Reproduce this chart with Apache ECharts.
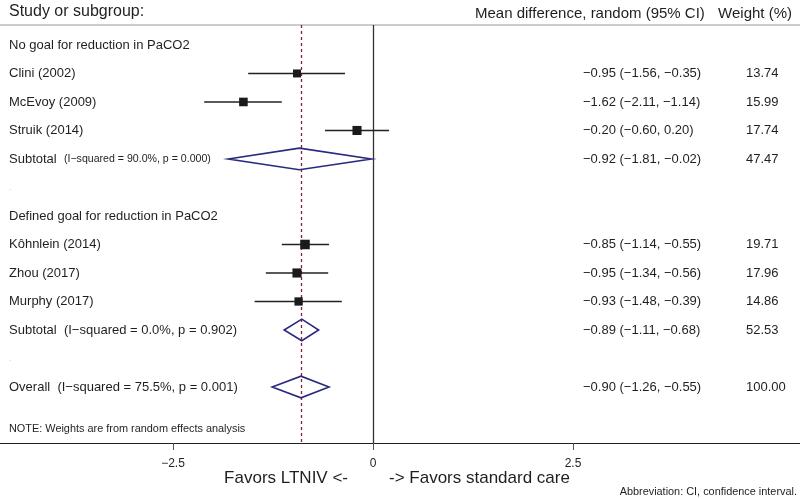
<!DOCTYPE html>
<html><head><meta charset="utf-8">
<script src="https://cdn.jsdelivr.net/npm/echarts@6/dist/echarts.min.js"></script>
<style>html,body{margin:0;padding:0;background:#fff}#c{width:800px;height:499px}</style>
</head><body><div id="c"></div>
<script>
// ---------- data ----------
const groupHeaders = ["No goal for reduction in PaCO2", "Defined goal for reduction in PaCO2"];
const groupHeaderRows = [0, 6];
const studyNames = ["Clini (2002)", "McEvoy (2009)", "Struik (2014)", "Kôhnlein (2014)", "Zhou (2017)", "Murphy (2017)"];
const studyRows = [1, 2, 3, 7, 8, 9];
const studyEst = [-0.95, -1.62, -0.20, -0.85, -0.95, -0.93];
const studyLo = [-1.56, -2.11, -0.60, -1.14, -1.34, -1.48];
const studyHi = [-0.35, -1.14, 0.20, -0.55, -0.56, -0.39];
const studyWeights = [13.74, 15.99, 17.74, 19.71, 17.96, 14.86];
const pooledLabels = ["Subtotal", "Subtotal", "Overall"];
const pooledHet = ["(I\u2212squared = 90.0%, p = 0.000)", "(I\u2212squared = 0.0%, p = 0.902)", "(I\u2212squared = 75.5%, p = 0.001)"];
const pooledRows = [4, 10, 12];
const pooledEst = [-0.92, -0.89, -0.90];
const pooledLo = [-1.81, -1.11, -1.26];
const pooledHi = [-0.02, -0.68, -0.55];
const pooledWeights = [47.47, 52.53, 100.00];
const spacerRows = [5, 11];
const xTicks = [-2.5, 0, 2.5];
const overallEffect = pooledEst[2];

// ---------- styles ----------
const FF = '"Liberation Sans", Arial, Helvetica, sans-serif';
const TXT = '#1f1f1f';
const hetFontPx = [10.6, 13, 13];
const X_LEFT = -4.55, X_CI = 2.625, X_WT = 4.6625;

const fmt = v => (v < 0 ? '\u2212' : '') + Math.abs(v).toFixed(2);
const ciText = (e, l, h) => fmt(e) + ' (' + fmt(l) + ', ' + fmt(h) + ')';

// build label table
const labelRows = [];
groupHeaders.forEach((t, i) => labelRows.push({row: groupHeaderRows[i], left: t}));
studyNames.forEach((t, i) => labelRows.push({row: studyRows[i], left: t, ci: ciText(studyEst[i], studyLo[i], studyHi[i]), wt: studyWeights[i].toFixed(2)}));
pooledLabels.forEach((t, i) => labelRows.push({row: pooledRows[i], left: t, het: pooledHet[i], hetPx: hetFontPx[i], ci: ciText(pooledEst[i], pooledLo[i], pooledHi[i]), wt: pooledWeights[i].toFixed(2)}));
spacerRows.forEach(r => labelRows.push({row: r, dot: true}));

function txt(x, y, text, font, align, fill) {
  return {type: 'text', x: x, y: y, silent: true,
    style: {text: text, font: font, fill: fill || TXT, align: align || 'left', textAlign: align || 'left', verticalAlign: 'middle', textVerticalAlign: 'middle'}};
}

const chart = echarts.init(document.getElementById('c'), null, {renderer: 'canvas'});
chart.setOption({
  animation: false,
  backgroundColor: '#fff',
  grid: {left: 0, right: 0, top: 25, bottom: 56},
  xAxis: {
    type: 'value', min: -4.6625, max: 5.3375, position: 'bottom',
    axisLine: {show: true, onZero: false, lineStyle: {color: '#222', width: 1}},
    axisTick: {show: true, customValues: xTicks, length: 7, lineStyle: {color: '#555'}},
    axisLabel: {show: true, customValues: xTicks, margin: 15, fontSize: 12, fontFamily: FF, color: TXT,
      formatter: v => (v < 0 ? '\u2212' : '') + Math.abs(v)},
    splitLine: {show: false}
  },
  yAxis: {type: 'value', inverse: true, min: -0.7, max: 13.965, show: false},
  graphic: [
    {type: 'line', silent: true, shape: {x1: 0, y1: 25, x2: 800, y2: 25}, style: {stroke: '#999', lineWidth: 1}},
    txt(9, 12, 'Study or subgroup:', '16px ' + FF),
    txt(475, 14, 'Mean difference, random (95% CI)', '15px ' + FF),
    txt(792, 14, 'Weight (%)', '15px ' + FF, 'right'),
    txt(9, 429, 'NOTE: Weights are from random effects analysis', '10.9px ' + FF),
    txt(348, 478, 'Favors LTNIV <-', '17px ' + FF, 'right'),
    txt(389, 478, '-> Favors standard care', '17px ' + FF),
    txt(797, 492, 'Abbreviation: CI, confidence interval.', '10.9px ' + FF, 'right')
  ],
  series: [
    {
      type: 'custom', name: 'studies', z: 5,
      encode: {x: [0, 2, 3], y: 1},
      data: studyRows.map((r, i) => [studyEst[i], r, studyLo[i], studyHi[i], studyWeights[i]]),
      renderItem: (params, api) => {
        const r = api.value(1);
        const p = api.coord([api.value(0), r]);
        const a = api.coord([api.value(2), r]);
        const b = api.coord([api.value(3), r]);
        const s = 2.15 * Math.sqrt(api.value(4));
        return {type: 'group', children: [
          {type: 'line', shape: {x1: a[0], y1: a[1], x2: b[0], y2: b[1]}, style: {stroke: '#222', lineWidth: 1.6}},
          {type: 'rect', shape: {x: p[0] - s / 2, y: p[1] - s / 2, width: s, height: s}, style: {fill: '#1a1a1a'}}
        ]};
      },
      markLine: {
        silent: true, symbol: 'none', label: {show: false},
        data: [
          {xAxis: 0, lineStyle: {color: '#333', type: 'solid', width: 1.3}},
          {xAxis: overallEffect, lineStyle: {color: '#8b1c3c', type: [3, 3], width: 1.3}}
        ]
      }
    },
    {
      type: 'custom', name: 'pooled', z: 6,
      encode: {x: [0, 2, 3], y: 1},
      data: pooledRows.map((r, i) => [pooledEst[i], r, pooledLo[i], pooledHi[i], pooledWeights[i]]),
      renderItem: (params, api) => {
        const r = api.value(1);
        const p = api.coord([api.value(0), r]);
        const a = api.coord([api.value(2), r]);
        const b = api.coord([api.value(3), r]);
        const h = 10.8;
        return {type: 'polygon', shape: {points: [[a[0], a[1]], [p[0], p[1] - h], [b[0], b[1]], [p[0], p[1] + h]]},
          style: {fill: 'none', stroke: '#2a2a7e', lineWidth: 1.6}};
      }
    },
    {
      type: 'custom', name: 'labels', z: 7, silent: true,
      encode: {y: 0},
      data: labelRows.map(d => [d.row]),
      renderItem: (params, api) => {
        const d = labelRows[params.dataIndex];
        const r = api.value(0);
        const yl = api.coord([X_LEFT, r]);
        const kids = [];
        if (d.dot) {
          kids.push(txt(yl[0], yl[1], '.', '8px ' + FF, 'left', '#bbb'));
        } else if (d.het) {
          kids.push({type: 'text', x: yl[0], y: yl[1], silent: true, style: {
            text: '{n|' + d.left + '}  {h|' + d.het + '}', font: '13px ' + FF, fill: TXT,
            align: 'left', textAlign: 'left', verticalAlign: 'middle', textVerticalAlign: 'middle',
            rich: {n: {font: '13px ' + FF, fill: TXT}, h: {font: d.hetPx + 'px ' + FF, fill: TXT}}
          }});
        } else {
          kids.push(txt(yl[0], yl[1], d.left, '13px ' + FF));
        }
        if (d.ci) {
          const c = api.coord([X_CI, r]);
          kids.push(txt(c[0], c[1], d.ci, '13px ' + FF));
          const w = api.coord([X_WT, r]);
          kids.push(txt(w[0], w[1], d.wt, '13px ' + FF));
        }
        return {type: 'group', children: kids};
      }
    }
  ]
});
</script>
</body></html>
